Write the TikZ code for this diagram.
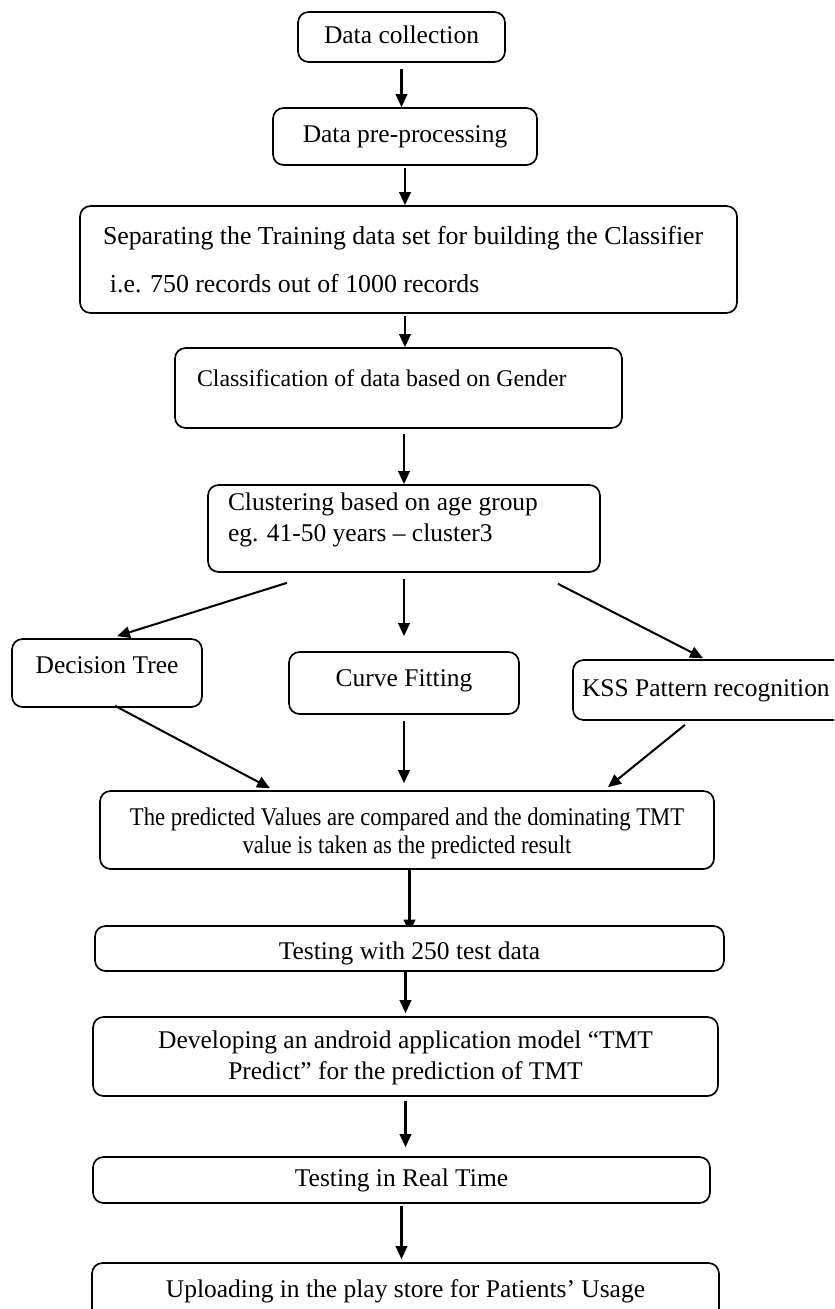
\documentclass[tikz,border=0pt]{standalone}
\usepackage{fontspec}
\setmainfont{Liberation Serif}
\newfontfamily\narrowserif[FakeStretch=0.89]{Liberation Serif}
\usetikzlibrary{arrows.meta,calc,backgrounds}

\begin{document}
\begin{tikzpicture}[
  box/.style={draw,rounded corners=6pt,line width=0.95pt,fill=white,
    inner sep=0pt,font=\fontsize{14.5}{17.6}\selectfont},
  one/.style={text height=10pt,text depth=3pt},
  a/.style={-{Triangle[length=2.6mm,width=2.3mm]},line width=1.15pt}]
\useasboundingbox (0,0) rectangle (16.68,-26.18);
\clip (0,0) rectangle (16.68,-26.18);
\node[box,one,minimum width=4.14cm,minimum height=1.00cm] (coll) at (8.03,-0.74)
  {Data collection};
\node[box,one,minimum width=5.28cm,minimum height=1.14cm] (prep) at (8.10,-2.73)
  {Data pre-processing};
\node[box,font=\fontsize{14.7}{17.6}\selectfont,minimum height=2.14cm,align=flush left,text width=12.22cm,inner xsep=0.46cm] (split) at (8.17,-5.19)
  {Separating the Training data set for building the Classifier\\[9.6pt]
   \hspace{0.14cm}i.e. 750 records out of 1000 records};
\node[box,one,font=\fontsize{13.6}{17.6}\selectfont,text depth=12pt,minimum height=1.60cm,align=flush left,text width=8.06cm,inner xsep=0.44cm] (gender) at (7.97,-7.76)
  {Classification of data based on Gender};
\node[box,text depth=30.8pt,minimum height=1.74cm,align=flush left,text width=7.04cm,inner xsep=0.40cm] (cluster) at (8.08,-10.57)
  {Clustering based on age group\\eg. 41-50 years -- cluster3};
\node[box,one,text depth=9.8pt,minimum width=3.80cm,minimum height=1.36cm] (tree) at (2.14,-13.46)
  {Decision Tree};
\node[box,one,text depth=6.4pt,minimum width=4.60cm,minimum height=1.24cm] (curve) at (8.08,-13.66)
  {Curve Fitting};
\node[box,one,minimum height=1.20cm,align=flush left,text width=5.18cm,inner xsep=0.18cm] (kss) at (14.23,-13.80)
  {KSS Pattern recognition};
\node[box,font=\fontsize{14.5}{15.9}\narrowserif,text height=30.2pt,text depth=3pt,align=center,minimum width=12.28cm,minimum height=1.56cm] (compare) at (8.14,-16.60)
  {The predicted Values are compared and the dominating TMT\\value is taken as the predicted result};
\node[box,one,text height=15pt,minimum width=12.58cm,minimum height=0.90cm] (test) at (8.19,-18.97)
  {Testing with 250 test data};
\node[box,text height=29.6pt,text depth=3pt,align=center,minimum width=12.50cm,minimum height=1.58cm] (app) at (8.11,-21.13)
  {Developing an android application model “TMT\\Predict” for the prediction of TMT};
\node[box,one,minimum width=12.34cm,minimum height=0.92cm] (real) at (8.03,-23.60)
  {Testing in Real Time};
\node[box,one,minimum width=12.54cm,minimum height=1.14cm] (store) at (8.11,-25.83)
  {Uploading in the play store for Patients’ Usage};
% main line
\draw[a,shorten <=0.12cm] (coll.south) -- (coll.south |- prep.north);
\draw[a,shorten <=0.04cm] (prep.south) -- (prep.south |- split.north);
\draw[a,shorten <=0.04cm] (prep.south |- split.south) -- (prep.south |- gender.north);
\draw[a,shorten <=0.10cm] (cluster.north |- gender.south) -- (cluster.north);
% the three methods
\draw[a] ([xshift=-2.34cm,yshift=-0.2cm]cluster.south) -- ([xshift=0.2cm,yshift=0.04cm]tree.north);
\draw[a,shorten <=0.12cm,shorten >=0.30cm] (curve.north |- cluster.south) -- (curve.north);
\draw[a] ([xshift=3.08cm,yshift=-0.22cm]cluster.south) -- ([xshift=-0.17cm,yshift=0.02cm]kss.north);
\draw[a] ([xshift=0.16cm,yshift=0.04cm]tree.south) -- ([xshift=-2.74cm,yshift=0.04cm]compare.north);
\draw[a,shorten <=0.12cm,shorten >=0.14cm] (curve.south) -- (curve.south |- compare.north);
\draw[a] ([xshift=-0.53cm,yshift=-0.08cm]kss.south) -- ([xshift=4.02cm,yshift=0.06cm]compare.north);
% testing and release
\begin{scope}[on background layer]
\draw[a,shorten >=-0.15cm] (test.north |- compare.south) -- (test.north);
\end{scope}
\draw[a,shorten >=0.06cm] (app.north |- test.south) -- (app.north);
\draw[a,shorten <=0.08cm,shorten >=0.18cm] (app.south) -- (app.south |- real.north);
\draw[a,shorten <=0.04cm,shorten >=0.06cm] (real.south) -- (real.south |- store.north);
\end{tikzpicture}
\end{document}
